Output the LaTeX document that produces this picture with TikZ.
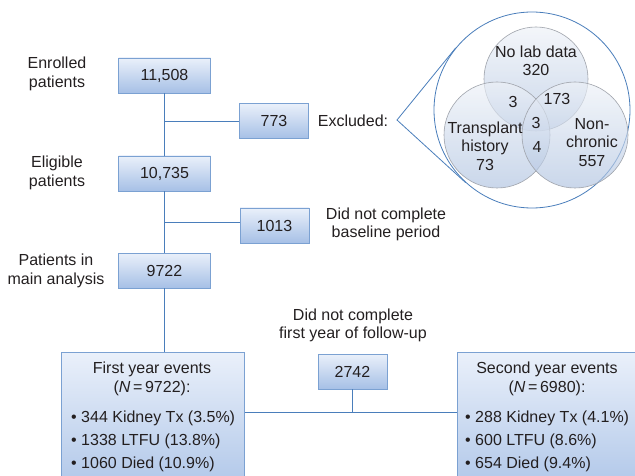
\documentclass[tikz,border=0pt]{standalone}
\usepackage{fontspec}
\setmainfont{Liberation Sans}
\usetikzlibrary{calc}

\definecolor{lineblue}{HTML}{4A7EBB}
\definecolor{boxedge}{HTML}{7BA1D2}
\definecolor{boxtop}{HTML}{EAF0FA}
\definecolor{boxbot}{HTML}{A6C0E6}
\definecolor{venntop}{HTML}{EEF2F8}
\definecolor{vennbot}{HTML}{AEC2E0}
\definecolor{vennedge}{HTML}{A0A4AC}
\definecolor{txt}{HTML}{231F20}

\begin{document}
\begin{tikzpicture}[x=1pt,y=-1pt,
  font=\fontsize{16}{18.5}\selectfont, text=txt,
  numbox/.style={draw=boxedge, line width=0.8pt, top color=boxtop, bottom color=boxbot,
    minimum width=92pt, minimum height=35pt, inner sep=0pt},
  smallbox/.style={numbox, minimum width=69pt},
  bigbox/.style={draw=boxedge, line width=0.8pt, top color=boxtop, bottom color=boxbot!85!boxtop,
    anchor=north west, inner sep=0pt},
  lbl/.style={align=center, inner sep=0pt},
  itm/.style={anchor=west, inner sep=0pt},
  conn/.style={draw=lineblue, line width=0.8pt},
  venn/.style={circle, draw=vennedge, line width=0.6pt, top color=venntop, bottom color=vennbot,
    fill opacity=0.65, draw opacity=1, minimum size=106pt, inner sep=0pt},
]
\path[use as bounding box] (0,0) rectangle (635,476);
\clip (0,0) rectangle (635,476);

% left labels
\node[lbl] (lenr) at (57,74) {Enrolled\\patients};
\node[lbl] (lelig) at (57,173) {Eligible\\patients};
\node[lbl] (lmain) at (56,271) {Patients in\\main analysis};

% main boxes
\node[numbox] (b1) at (164.5,75.5) {11,508};
\node[numbox] (b2) at (164.5,173.5) {10,735};
\node[numbox] (b3) at (164.5,270.5) {9722};
\node[smallbox] (ex1) at (274,121) {773};
\node[smallbox] (ex2) at (274.5,225.5) {1013};

\node[lbl] (lexc) at (353,121) {Excluded:};
\node[lbl] (lbase) at (386,224.5) {Did not complete\\baseline period};
\node[lbl] (lfu) at (353,325.5) {Did not complete\\first year of follow-up};

% bottom boxes
\node[bigbox, minimum width=183pt, minimum height=135pt] (fy) at (61,352) {};
\node[bigbox, minimum width=190pt, minimum height=135pt] (sy) at (457,352) {};
\node[smallbox] (t2742) at (352.5,371.5) {2742};

\node[lbl] (fyh) at (152,379) {First year events\\(\textit{N}\,=\,9722):};
\node[itm] (fy1) at (71,418) {• 344 Kidney Tx (3.5\%)};
\node[itm] (fy2) at (71,441.5) {• 1338 LTFU (13.8\%)};
\node[itm] (fy3) at (71,464) {• 1060 Died (10.9\%)};

\node[lbl] (syh) at (547,379) {Second year events\\(\textit{N}\,=\,6980):};
\node[itm] (sy1) at (465,418) {• 288 Kidney Tx (4.1\%)};
\node[itm] (sy2) at (465,441.5) {• 600 LTFU (8.6\%)};
\node[itm] (sy3) at (465,464) {• 654 Died (9.4\%)};

% connectors
\coordinate (br1) at (164.5,121);
\coordinate (br2) at (164.5,222);
\coordinate (hl) at (300,412);
\draw[conn] (b1.south) -- (b2.north);
\draw[conn] (b2.south) -- (b3.north);
\draw[conn] (b3.south) -- (b3.south |- fy.north);
\draw[conn] (br1) -- (br1 -| ex1.west);
\draw[conn] (br2) -- (br2 -| ex2.west);
\draw[conn] (fy.east |- hl) -- (sy.west |- hl);
\draw[conn] (t2742.south) -- (t2742.south |- hl);

% Venn
\node[circle, draw=lineblue, line width=0.8pt, fill=white, minimum size=196pt, inner sep=0pt] (big) at (532,110) {};
\coordinate (exv) at (397,120);
\draw[conn] (tangent cs:node=big,point={(exv)},solution=1) -- (exv)
  -- (tangent cs:node=big,point={(exv)},solution=2);

\node[venn, minimum size=104pt] (cnl) at (536,79) {};
\node[venn] (ctp) at (497,135) {};
\node[venn] (cnc) at (575,135) {};

\node[lbl] (tnl) at (536,61) {No lab data\\320};
\node[lbl] (ttp) at (485,146) {Transplant\\history\\73};
\node[lbl] (tnc) at (592,142.5) {Non-\\chronic\\557};
\node[lbl] (i1) at (513,102) {3};
\node[lbl] (i2) at (557,99) {173};
\node[lbl] (i3) at (536,123) {3};
\node[lbl] (i4) at (537,147) {4};
\end{tikzpicture}
\end{document}
